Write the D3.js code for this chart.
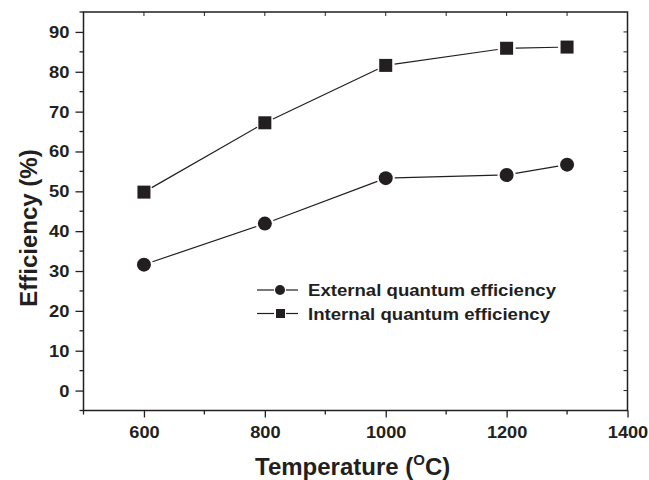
<!DOCTYPE html>
<html><head><meta charset="utf-8">
<script src="https://cdn.jsdelivr.net/npm/d3@7"></script>
<style>body{margin:0;background:#fff}svg{font-family:"Liberation Sans",Arial,sans-serif}</style>
</head><body><svg id="c" width="649" height="480"></svg>
<script>
const temperatures = [600, 800, 1000, 1200, 1300];
const externalQE = [31.6, 41.9, 53.3, 54.1, 56.7];
const internalQE = [49.8, 67.2, 81.6, 85.9, 86.2];
const xTickValues = [600, 800, 1000, 1200, 1400];
const yTickValues = [0, 10, 20, 30, 40, 50, 60, 70, 80, 90];
const seriesNames = ["External quantum efficiency", "Internal quantum efficiency"];

const svg = d3.select("#c");
const L = 83.5, R = 627.5, T = 12, B = 410.5;
const x = d3.scaleLinear().domain([500, 1400]).range([L, R]);
const y = d3.scaleLinear().domain([-5, 95]).range([B, T]);
const ink = "#231f20";

function stretch(sel, k) {
  sel.each(function () {
    const w = this.getComputedTextLength();
    d3.select(this).attr("textLength", w * k).attr("lengthAdjust", "spacingAndGlyphs");
  });
}

// frame
svg.append("rect").attr("x", L).attr("y", T).attr("width", R - L).attr("height", B - T)
  .attr("fill", "none").attr("stroke", ink).attr("stroke-width", 1.5);

// bottom axis major + minor ticks outward
const xMinor = d3.range(500, 1401, 100);
const bx = svg.append("g").attr("transform", `translate(0,${B})`)
  .call(d3.axisBottom(x).tickValues(xTickValues).tickSize(7).tickPadding(8).tickFormat(d3.format("d")));
bx.select(".domain").remove();
bx.selectAll("line").attr("stroke", ink).attr("stroke-width", 1.3);
bx.selectAll("text").attr("font-size", 17).attr("font-weight", "bold").attr("fill", ink).call(stretch, 1.07);
svg.append("g").selectAll("line").data(xMinor.filter(d => !xTickValues.includes(d)))
  .join("line").attr("x1", d => x(d)).attr("x2", d => x(d)).attr("y1", B).attr("y2", B + 4)
  .attr("stroke", ink).attr("stroke-width", 1.3);
// top ticks inward
svg.append("g").selectAll("line").data(xMinor)
  .join("line").attr("x1", d => x(d)).attr("x2", d => x(d)).attr("y1", T).attr("y2", T + 4)
  .attr("stroke", ink).attr("stroke-width", 1);

// left axis
const ly = svg.append("g").attr("transform", `translate(${L},0)`)
  .call(d3.axisLeft(y).tickValues(yTickValues).tickSize(8).tickPadding(6));
ly.select(".domain").remove();
ly.selectAll("line").attr("stroke", ink).attr("stroke-width", 1.3);
ly.selectAll("text").attr("font-size", 17).attr("font-weight", "bold").attr("fill", ink).call(stretch, 1.08);
const yMinor = d3.range(-5, 96, 10);
svg.append("g").selectAll("line").data(yMinor)
  .join("line").attr("x1", L - 4).attr("x2", L).attr("y1", d => y(d)).attr("y2", d => y(d))
  .attr("stroke", ink).attr("stroke-width", 1.3);
// right ticks inward
svg.append("g").selectAll("line").data(d3.range(0, 91, 5))
  .join("line").attr("x1", R - 4).attr("x2", R).attr("y1", d => y(d)).attr("y2", d => y(d))
  .attr("stroke", ink).attr("stroke-width", 1);

// titles
svg.append("text").attr("x", 255).attr("y", 475).attr("text-anchor", "start")
  .attr("font-size", 24).attr("font-weight", "bold").attr("fill", ink)
  .call(t => {
    t.append("tspan").text("Temperature (");
    t.append("tspan").text("O").attr("font-size", 15).attr("dy", -10);
    t.append("tspan").text("C)").attr("dy", 10);
  });
svg.append("text").attr("transform", "translate(37,228) rotate(-90)").attr("text-anchor", "middle")
  .attr("font-size", 24).attr("font-weight", "bold").attr("fill", ink).text("Efficiency (%)");

// series lines with gaps at markers
function gappedSegments(vals, gap) {
  const segs = [];
  for (let i = 0; i < vals.length - 1; i++) {
    const x1 = x(temperatures[i]), y1 = y(vals[i]), x2 = x(temperatures[i + 1]), y2 = y(vals[i + 1]);
    const dx = x2 - x1, dy = y2 - y1, len = Math.hypot(dx, dy);
    segs.push([x1 + dx / len * gap, y1 + dy / len * gap, x2 - dx / len * gap, y2 - dy / len * gap]);
  }
  return segs;
}
[externalQE, internalQE].forEach(vals => {
  svg.append("g").selectAll("line").data(gappedSegments(vals, 9)).join("line")
    .attr("x1", d => d[0]).attr("y1", d => d[1]).attr("x2", d => d[2]).attr("y2", d => d[3])
    .attr("stroke", ink).attr("stroke-width", 1.2);
});
svg.append("g").selectAll("circle").data(externalQE).join("circle")
  .attr("cx", (d, i) => x(temperatures[i])).attr("cy", d => y(d)).attr("r", 7).attr("fill", ink);
svg.append("g").selectAll("rect").data(internalQE).join("rect")
  .attr("x", (d, i) => x(temperatures[i]) - 6.5).attr("y", d => y(d) - 6.5)
  .attr("width", 13).attr("height", 13).attr("fill", ink);

// legend
const leg = svg.append("g");
const legLens = [248, 242];
seriesNames.forEach((name, i) => {
  const ly0 = 290 + i * 23.5;
  leg.append("line").attr("x1", 257).attr("x2", 274).attr("y1", ly0).attr("y2", ly0).attr("stroke", ink).attr("stroke-width", 1.2);
  leg.append("line").attr("x1", 286).attr("x2", 298).attr("y1", ly0).attr("y2", ly0).attr("stroke", ink).attr("stroke-width", 1.2);
  if (i === 0) leg.append("circle").attr("cx", 280).attr("cy", ly0).attr("r", 5).attr("fill", ink);
  else leg.append("rect").attr("x", 276).attr("y", ly0 - 4.5).attr("width", 9).attr("height", 9).attr("fill", ink);
  leg.append("text").attr("x", 308).attr("y", ly0 + 6).attr("font-size", 16).attr("font-weight", "bold")
    .attr("fill", ink).attr("textLength", legLens[i]).attr("lengthAdjust", "spacingAndGlyphs").text(name);
});
</script></body></html>
